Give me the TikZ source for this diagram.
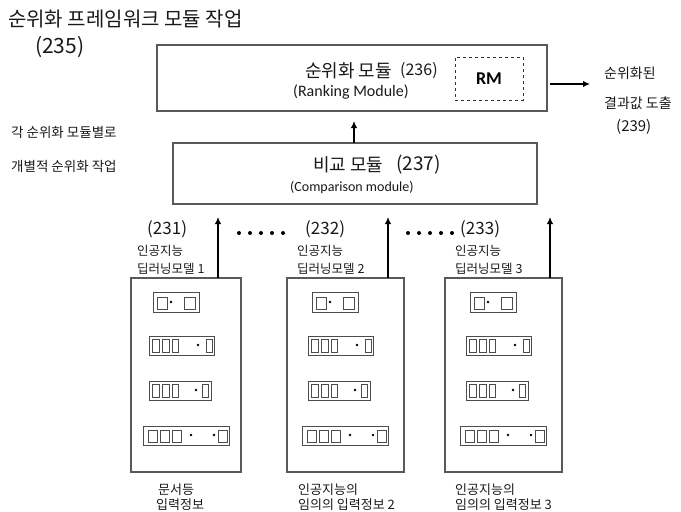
\documentclass[tikz,border=0pt]{standalone}
\usepackage{fontspec}
\setmainfont{Noto Sans CJK KR}
\newfontfamily\lat{Carlito}
\usetikzlibrary{arrows.meta}
\newcommand\fsz[1]{\fontsize{#1}{#1}\selectfont}
\newcommand\glyphrows[1]{%
\begin{scope}[xshift=#1pt]
 \draw[gl] (22,292) rectangle (68,312);
 \draw[gl] (26,297) rectangle (36,309);
 \fill (40,302) circle (1.3pt);
 \draw[gl] (53,297) rectangle (64,309);
 \draw[gl] (18,336) rectangle (83,355);
 \draw[gl] (21,339) rectangle (28,352);
 \draw[gl] (31,339) rectangle (38,352);
 \draw[gl] (41,339) rectangle (47,352);
 \fill (67,345) circle (1.3pt);
 \draw[gl] (75,339) rectangle (81,352);
 \draw[gl] (18,381) rectangle (80,400);
 \draw[gl] (21,384) rectangle (28,397);
 \draw[gl] (31,384) rectangle (38,397);
 \draw[gl] (41,384) rectangle (47,397);
 \fill (65,390) circle (1.3pt);
 \draw[gl] (71,384) rectangle (77,397);
 \draw[gl] (12,426) rectangle (98,445);
 \draw[gl] (17,430) rectangle (26,442);
 \draw[gl] (29,430) rectangle (38,442);
 \draw[gl] (41,430) rectangle (50,442);
 \fill (60,435) circle (1.3pt);
 \fill (83,435) circle (1.3pt);
 \draw[gl] (87,430) rectangle (96,442);
\end{scope}}
\begin{document}
\begin{tikzpicture}[x=1pt,y=-1pt,
 box/.style={draw=black!65, line width=1.1pt, inner sep=0pt, outer sep=0pt, anchor=north west},
 lbl/.style={anchor=west, inner sep=0pt, text=black!90},
 arr/.style={line width=1.8pt, -{Latex[length=7pt,width=6.5pt]}},
 gl/.style={draw=black!70, line width=0.8pt},
 dot/.style={circle, fill=black, inner sep=0pt, minimum size=4pt},
]
\useasboundingbox (0,0) rectangle (681,512);

% top-left title
\node[lbl, font=\fsz{20}] (title) at (8,19) {순위화 프레임워크 모듈 작업};
\node[lbl, font=\fsz{21}] (n235) at (35,47) {(235)};

% ranking module box
\node[box, minimum width=390pt, minimum height=66pt] (top) at (157,45) {};
\node[box, dashed, draw=black!80, line width=1pt, minimum width=68pt, minimum height=43pt,
      font=\lat\bfseries\fsz{18}] (rm) at (455,57) {RM};
\node[lbl, font=\fsz{18}] (rk) at (305,71) {순위화 모듈};
\node[lbl, font=\fsz{16}] (n236) at (400,71) {(236)};
\node[lbl, font=\lat\fsz{16}] (rken) at (293,92) {(Ranking Module)};

% output
\coordinate (rend) at (590,84);
\draw[arr, shorten <=3pt] (top.east |- rend) -- (rend);
\node[lbl, font=\fsz{14}] (o1) at (604,73) {순위화된};
\node[lbl, font=\fsz{14}] (o2) at (604,103) {결과값 도출};
\node[lbl, font=\fsz{15}] (o3) at (616,127) {(239)};

% left note
\node[lbl, font=\fsz{13.5}] (l1) at (11,132) {각 순위화 모듈별로};
\node[lbl, font=\fsz{13.5}] (l2) at (11,166) {개별적 순위화 작업};

% comparison box
\node[box, minimum width=364pt, minimum height=61pt] (cmp) at (173,143) {};
\node[lbl, font=\fsz{18}] (cp) at (313,165) {비교 모듈};
\node[lbl, font=\fsz{19}] (n237) at (396,165) {(237)};
\node[lbl, font=\lat\fsz{14}] (cpen) at (290,188) {(Comparison module)};

\coordinate (c0) at (354,0);
\draw[arr, shorten >=10pt] (cmp.north -| c0) -- (top.south -| c0);

% model boxes
\node[box, minimum width=110pt, minimum height=194pt] (m1) at (131,278) {};
\node[box, minimum width=117pt, minimum height=194pt] (m2) at (287,278) {};
\node[box, minimum width=117pt, minimum height=194pt] (m3) at (445,278) {};
\glyphrows{131}
\glyphrows{290}
\glyphrows{448}

\coordinate (c1) at (218,0);
\coordinate (c2) at (388,0);
\coordinate (c3) at (550,0);
\draw[arr, shorten >=13pt] (m1.north -| c1) -- (cmp.south -| c1);
\draw[arr, shorten >=13pt] (m2.north -| c2) -- (cmp.south -| c2);
\draw[arr, shorten >=13pt] (m3.north -| c3) -- (cmp.south -| c3);

% model labels
\node[lbl, font=\fsz{17}] (n231) at (147,229) {(231)};
\node[lbl, font=\fsz{12.5}] (a1) at (137,251) {인공지능};
\node[lbl, font=\fsz{12.5}] (b1) at (137,269) {딥러닝모델 1};
\node[lbl, font=\fsz{17}] (n232) at (305,229) {(232)};
\node[lbl, font=\fsz{12.5}] (a2) at (297,251) {인공지능};
\node[lbl, font=\fsz{12.5}] (b2) at (297,269) {딥러닝모델 2};
\node[lbl, font=\fsz{17}] (n233) at (460,229) {(233)};
\node[lbl, font=\fsz{12.5}] (a3) at (455,251) {인공지능};
\node[lbl, font=\fsz{12.5}] (b3) at (455,269) {딥러닝모델 3};

% dots
\foreach \i in {0,...,4} {
  \node[dot] (da\i) at (239+11*\i,233) {};
  \node[dot] (db\i) at (408+11*\i,233) {};
}

% bottom labels
\node[lbl, font=\fsz{13}] (d1) at (158,490) {문서등};
\node[lbl, font=\fsz{13}] (e1) at (156,505) {입력정보};
\node[lbl, font=\fsz{13}] (d2) at (298,490) {인공지능의};
\node[lbl, font=\fsz{13}] (e2) at (298,505) {임의의 입력정보 2};
\node[lbl, font=\fsz{13}] (d3) at (455,490) {인공지능의};
\node[lbl, font=\fsz{13}] (e3) at (455,505) {임의의 입력정보 3};
\end{tikzpicture}
\end{document}
